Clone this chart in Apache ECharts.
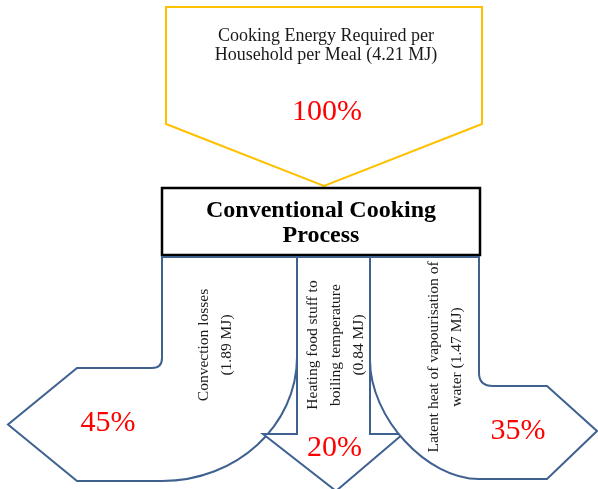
<!DOCTYPE html>
<html>
<head>
<meta charset="utf-8">
<script src="https://cdn.jsdelivr.net/npm/echarts@6/dist/echarts.min.js"></script>
<style>
html,body{margin:0;padding:0;background:#fff}
#main{width:598px;height:489px}
</style>
</head>
<body>
<div id="main"></div>
<script>
// energy balance of one meal
var inputLabel = 'Cooking Energy Required per\nHousehold per Meal ({mj} MJ)';
var inputMJ = 4.21;
var inputShare = 100;
var processLabel = 'Conventional Cooking\nProcess';
var flowLabels = [
    'Convection losses\n({mj} MJ)',
    'Heating food stuff to\nboiling temperature\n({mj} MJ)',
    'Latent heat of vapourisation of\nwater ({mj} MJ)'
];
var flowMJ = [1.89, 0.84, 1.47];
var flowShare = [45, 20, 35];

var SERIF = '"Liberation Serif","Times New Roman",serif';
var GOLD = '#FFC000', BLUE = '#3F6190', RED = '#FF0000', INK = '#1a1a1a';

// outlines in axis units (the hidden axes span the whole canvas)
var outlines = [
    [['M',166,7],['L',482,7],['L',482,124],['L',324,186],['L',166,124],['Z']],
    [['M',162,188],['L',480,188],['L',480,255],['L',162,255],['Z']],
    [['M',162,257],['L',297,257],['L',297,357],['C',297,425.5,236.6,481,162,481],['L',77,481],['L',8,424.5],
     ['L',77,368],['L',152,368],['Q',162,368,162,358],['Z']],
    [['M',297,257],['L',370,257],['L',370,434],['L',403,434],['L',336,491],['L',263,434],['L',297,434],['Z']],
    [['M',370,257],['L',479,257],['L',479,373],['Q',479,386,493,386],['L',547,386],['L',597,431],['L',547,479],
     ['L',479,479],['C',427,479,370,418,370,360],['Z']]
];
var strokes = [[GOLD, 2], ['#000', 2.5], [BLUE, 2], [BLUE, 2], [BLUE, 2]];
var labelPos = [[326, 45.5], [321, 223.5], [215.5, 345], [336, 345], [445, 357]];
var sharePos = [[327, 112], null, [108, 423], [334.5, 448], [518, 431]];

function toPath(api, cmds) {
    return cmds.map(function (c) {
        var s = c[0];
        for (var i = 1; i < c.length; i += 2) {
            var p = api.coord([c[i], c[i + 1]]);
            s += ' ' + p[0].toFixed(1) + ' ' + p[1].toFixed(1);
        }
        return s;
    }).join(' ');
}

function textEl(api, pos, text, font, color, rot, lh) {
    var p = api.coord(pos);
    return {
        type: 'text', x: p[0], y: p[1], rotation: rot || 0,
        style: {
            text: text, font: font, fill: color, lineHeight: lh || 20,
            align: 'center', verticalAlign: 'middle',
            textAlign: 'center', textVerticalAlign: 'middle'
        }
    };
}

var items = [[inputShare, inputMJ], [0, 0]];
for (var i = 0; i < flowShare.length; i++) items.push([flowShare[i], flowMJ[i]]);

function renderItem(params, api) {
    var k = params.dataIndex;
    var share = api.value(0), mj = api.value(1);
    var kids = [{
        type: 'path',
        shape: { pathData: toPath(api, outlines[k]) },
        style: { fill: '#fff', stroke: strokes[k][0], lineWidth: strokes[k][1], lineJoin: 'miter' }
    }];
    if (k === 0) {
        kids.push(textEl(api, labelPos[k], inputLabel.replace('{mj}', mj.toFixed(2)), '18px ' + SERIF, INK, 0, 19));
    } else if (k === 1) {
        kids.push(textEl(api, labelPos[k], processLabel, 'bold 24px ' + SERIF, '#000', 0, 25));
    } else {
        kids.push(textEl(api, labelPos[k], flowLabels[k - 2].replace('{mj}', mj.toFixed(2)), '15.5px ' + SERIF, INK, Math.PI / 2, 23));
    }
    if (sharePos[k]) {
        kids.push(textEl(api, sharePos[k], share + '%', '30px ' + SERIF, RED, 0, 32));
    }
    return { type: 'group', children: kids };
}

var myChart = echarts.init(document.getElementById('main'));
var option = {
    animation: false,
    grid: { left: 0, right: 0, top: 0, bottom: 0 },
    xAxis: { type: 'value', min: 0, max: 598, show: false },
    yAxis: { type: 'value', min: 0, max: 489, inverse: true, show: false },
    series: [{
        type: 'custom',
        clip: false,
        renderItem: renderItem,
        data: items
    }]
};
myChart.setOption(option);
</script>
</body>
</html>
